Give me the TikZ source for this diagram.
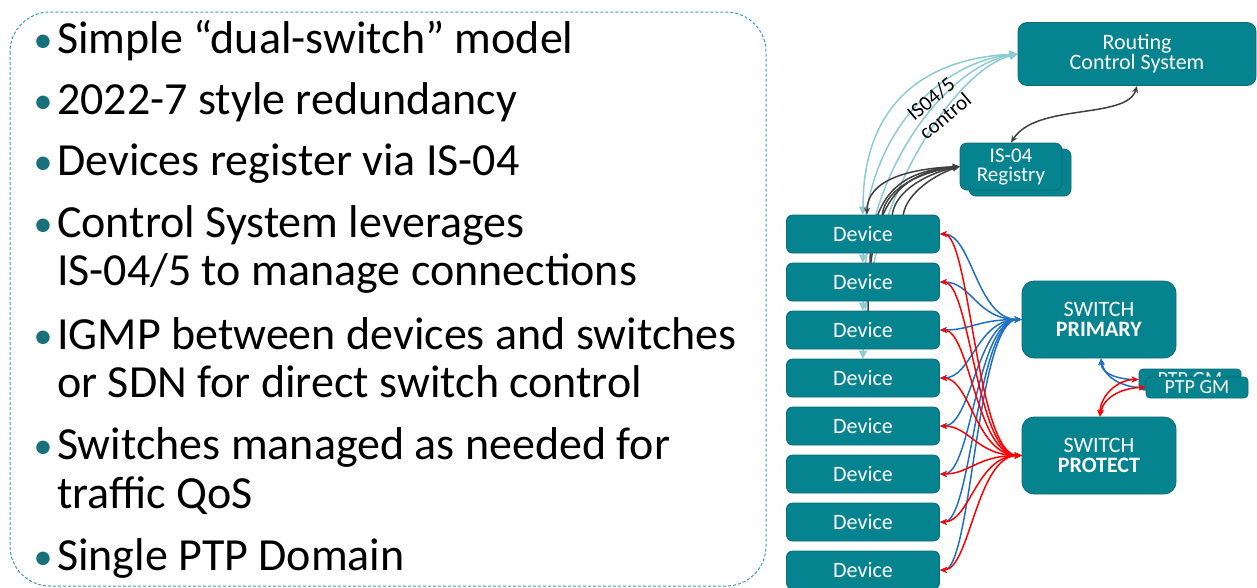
\documentclass[tikz,border=0pt]{standalone}
\usepackage{fontspec}
\setmainfont{Carlito}
\usetikzlibrary{arrows.meta}

\pgfdeclarelayer{back}
\pgfsetlayers{back,main}

\definecolor{boxteal}{HTML}{05838F}
\definecolor{boxedge}{HTML}{0B6C76}
\definecolor{framedash}{HTML}{3E9DAA}
\definecolor{bulletteal}{HTML}{17707C}
\definecolor{ctrlblue}{HTML}{8DCBD3}
\definecolor{regline}{HTML}{404040}
\definecolor{primline}{HTML}{1F70C1}
\definecolor{protline}{HTML}{FF0000}

\tikzset{
  listline/.style={anchor=base west, inner sep=0pt, text=black,
    font=\fontsize{46}{46}\selectfont},
  listdot/.style={anchor=base, inner sep=0pt, text=bulletteal,
    font=\fontsize{38}{38}\selectfont},
  tealbox/.style={draw=boxedge, line width=0.8pt, fill=boxteal,
    rounded corners=7pt, text=white, align=center, inner sep=0pt},
  devbox/.style={tealbox, minimum width=153pt, minimum height=38pt,
    rounded corners=6pt, font=\fontsize{22}{22}\selectfont},
  swbox/.style={tealbox, minimum width=154pt, minimum height=77pt,
    rounded corners=12pt, font=\fontsize{22}{20}\selectfont},
  ptpbox/.style={tealbox, minimum width=102pt, minimum height=21pt,
    rounded corners=4pt, font=\fontsize{20}{20}\selectfont},
  ctrllabel/.style={rotate=40, inner sep=0pt, text=black,
    font=\fontsize{21}{21}\selectfont},
  ctrlarrow/.style={draw=ctrlblue, line width=1.5pt,
    {Triangle[length=8pt,width=8pt]}-{Triangle[length=8pt,width=8pt]}},
  regarrow/.style={draw=regline, line width=1.5pt,
    {Stealth[length=7pt,width=6pt]}-{Stealth[length=7pt,width=6pt]}},
  primarrow/.style={draw=primline, line width=1.5pt,
    {Stealth[length=7pt,width=6pt]}-{Stealth[length=7pt,width=6pt]}},
  protarrow/.style={draw=protline, line width=1.5pt,
    {Stealth[length=7pt,width=6pt]}-{Stealth[length=7pt,width=6pt]}},
}

\begin{document}
\begin{tikzpicture}[x=1pt,y=-1pt]
\useasboundingbox (0,0) rectangle (1257,587);

% dashed frame around the bullet list
\draw[framedash, line width=1pt, dash pattern=on 3pt off 2pt,
  rounded corners=40pt] (10,12) rectangle (766,586);

% bullet list
\node[listdot] (d1) at (43,52)  {•};
\node[listline] (t1) at (57,53)  {Simple “dual-switch” model};
\node[listdot] (d2) at (43,113) {•};
\node[listline] (t2) at (57,114) {2022-7 style redundancy};
\node[listdot] (d3) at (43,174) {•};
\node[listline] (t3) at (57,175) {Devices register via IS-04};
\node[listdot] (d4) at (43,236) {•};
\node[listline] (t4) at (57,237) {Control System leverages};
\node[listline] (t4b) at (57,285) {IS-04/5 to manage connections};
\node[listdot] (d5) at (43,348) {•};
\node[listline] (t5) at (57,349) {IGMP between devices and switches};
\node[listline] (t5b) at (57,397) {or SDN for direct switch control};
\node[listdot] (d6) at (43,458) {•};
\node[listline] (t6) at (57,459) {Switches managed as needed for};
\node[listline] (t6b) at (57,508) {traffic QoS};
\node[listdot] (d7) at (43,569) {•};
\node[listline] (t7) at (57,570) {Single PTP Domain};

% boxes
\node[tealbox, minimum width=238pt, minimum height=63pt, rounded corners=9pt,
  font=\fontsize{22}{20}\selectfont] (rcs) at (1137,54) {Routing\\Control System};
\node[tealbox, minimum width=102pt, minimum height=47pt, rounded corners=7pt]
  (regback) at (1020,172.5) {};
\node[tealbox, minimum width=102pt, minimum height=47pt, rounded corners=7pt,
  font=\fontsize{21}{19}\selectfont] (reg) at (1011,166.5) {IS-04\\Registry};

\foreach \i in {1,...,8}{
  \node[devbox] (dev\i) at (863,{234+48*(\i-1)}) {Device};
}

\node[swbox] (prim) at (1099,319.5) {SWITCH\\\textbf{PRIMARY}};
\node[swbox] (prot) at (1099,455.5) {SWITCH\\\textbf{PROTECT}};

\node[ptpbox] (ptpA) at (1190,379.5) {PTP GM};
\node[ptpbox] (ptpB) at (1197,387.5) {PTP GM};

\begin{pgfonlayer}{back}
% IS-04/5 control connections from the routing system (run behind the devices)
\foreach \i in {1,...,4}{
  \draw[ctrlarrow] (rcs.west) .. controls +({-(88-6*\i)},{4*\i}) and +(0,{-(110+10*\i)}) .. (dev\i.north);
}

% IS-04 registration connections
\draw[regarrow] (reg.west) .. controls +(-50,2) and +(0,-35) .. ([xshift=4pt]dev1.north);
\draw[regarrow] (reg.west) .. controls +(-55,4) and +(0,-80) .. ([xshift=7pt,yshift=-8pt]dev2.north);
\draw[regarrow] (reg.west) .. controls +(-58,6) and +(0,-120) .. ([xshift=5pt,yshift=-8pt]dev3.north);
\draw[regarrow] (reg.west) .. controls +(-45,6) and +(0,-30) .. ([xshift=19pt,yshift=-8pt]dev1.north);
\draw[regarrow] (reg.west) .. controls +(-38,8) and +(0,-28) .. ([xshift=29pt,yshift=-8pt]dev1.north);
\draw[regarrow] (reg.west) .. controls +(-30,10) and +(0,-25) .. ([xshift=40pt,yshift=-8pt]dev1.north);
\end{pgfonlayer}

% registry <-> routing system
\draw[regarrow] (rcs.south) .. controls +(-10,34) and +(25,-40) .. (reg.north);

% label of the control connections
\node[ctrllabel] (lblA) at (931,99) {IS04/5};
\node[ctrllabel] (lblB) at (945,116) {control};

% media connections: primary (blue) and protect (red)
\foreach \i in {1,...,8}{
  \draw[primarrow] (dev\i.east) .. controls +(32,0) and +(-45,0) .. (prim.west);
}
\foreach \i in {1,...,8}{
  \draw[protarrow] (dev\i.east) .. controls +(30,0) and +(-45,0) .. (prot.west);
}

% PTP grandmaster links
\draw[primarrow] ([xshift=2pt]prim.south) to[out=-90,in=180] (ptpA.west);
\draw[primarrow] ([xshift=2pt]prim.south) to[out=-80,in=180] (ptpB.west);
\draw[protarrow] ([xshift=1pt]prot.north) to[out=90,in=180] (ptpA.west);
\draw[protarrow] ([xshift=1pt]prot.north) to[out=80,in=180] (ptpB.west);

\end{tikzpicture}
\end{document}
